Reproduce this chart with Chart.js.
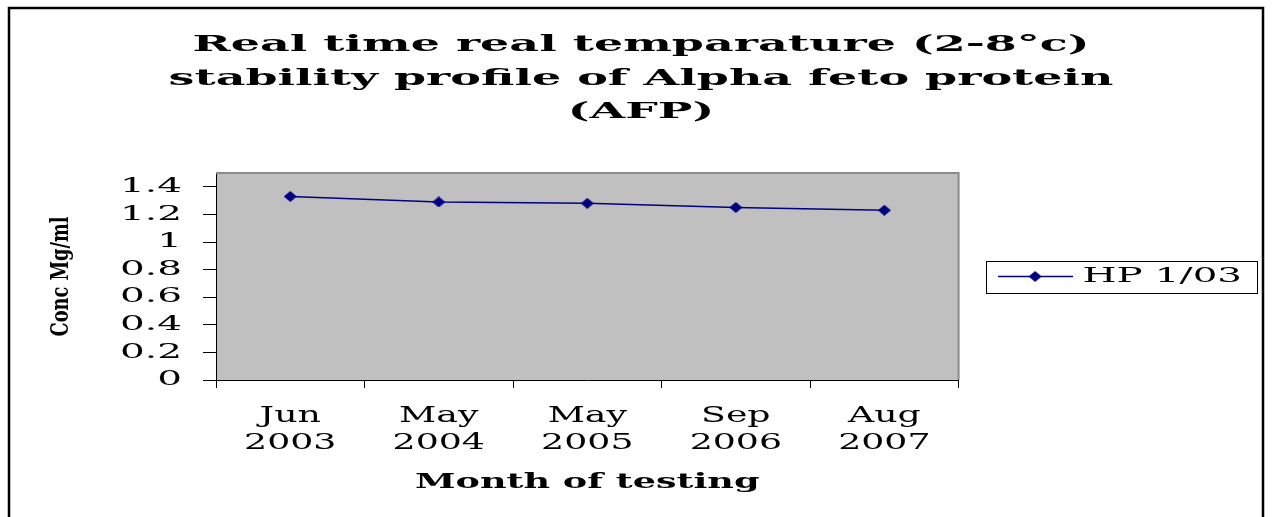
<!DOCTYPE html>
<html><head><meta charset="utf-8">
<script src="https://cdn.jsdelivr.net/npm/chart.js@4/dist/chart.umd.min.js"></script>
<style>html,body{margin:0;padding:0;background:#fff;}#wrap{width:1274px;height:517px;}</style>
</head><body><div id="wrap"><canvas id="c" width="1274" height="517"></canvas></div>
<script>
// ---- data ----
const months = ['Jun', 'May', 'May', 'Sep', 'Aug'];
const years = ['2003', '2004', '2005', '2006', '2007'];
const concValues = [1.33, 1.29, 1.28, 1.25, 1.23];
const seriesName = 'HP 1/03';
const yTickValues = [0, 0.2, 0.4, 0.6, 0.8, 1, 1.2, 1.4];
const titleLines = ['Real time real temparature (2-8°c)', 'stability profile of Alpha feto protein', '(AFP)'];
const yTitle = 'Conc Mg/ml';
const xTitle = 'Month of testing';

// ---- horizontal text stretch per font tag ----
const SX = {tgTitle: 2.09, tgAx: 1.83, tgXT: 1.65, tgYT: 1.95, tgLeg: 1.94, tgY: 0.74};
function sxFor(f) { for (const k in SX) if (f.indexOf(k) >= 0) return SX[k]; return 1; }
const canvas = document.getElementById('c');
const ctx = canvas.getContext('2d');
const oFill = ctx.fillText.bind(ctx), oMeas = ctx.measureText.bind(ctx);
ctx.fillText = function (t, x, y, mw) {
  const s = sxFor(ctx.font);
  if (s === 1) return mw === undefined ? oFill(t, x, y) : oFill(t, x, y, mw);
  ctx.save(); ctx.translate(x, y); ctx.scale(s, 1);
  if (mw === undefined) oFill(t, 0, 0); else oFill(t, 0, 0, mw / s);
  ctx.restore();
};
ctx.measureText = function (t) {
  const m = oMeas(t); const s = sxFor(ctx.font);
  if (s === 1) return m;
  return {width: m.width * s, actualBoundingBoxAscent: m.actualBoundingBoxAscent,
    actualBoundingBoxDescent: m.actualBoundingBoxDescent,
    actualBoundingBoxLeft: m.actualBoundingBoxLeft * s, actualBoundingBoxRight: m.actualBoundingBoxRight * s};
};

// ---- marker images ----
const NAVY = '#000080';
function diamond(c, cx, cy, w, h) {
  c.beginPath(); c.moveTo(cx, cy - h / 2); c.lineTo(cx + w / 2, cy); c.lineTo(cx, cy + h / 2); c.lineTo(cx - w / 2, cy); c.closePath();
  c.fillStyle = NAVY; c.fill();
}
const dImg = document.createElement('canvas'); dImg.width = 13; dImg.height = 11;
diamond(dImg.getContext('2d'), 6.5, 5.5, 13, 11);
const lImg = document.createElement('canvas'); lImg.width = 75; lImg.height = 11;
(function () { const c = lImg.getContext('2d'); c.strokeStyle = NAVY; c.lineWidth = 1.5; c.beginPath(); c.moveTo(0, 5.5); c.lineTo(75, 5.5); c.stroke(); diamond(c, 37.5, 5.5, 13, 11); })();

const deco = {
  id: 'deco',
  afterLayout(chart) {
    chart.titleBlock.left += 10; chart.titleBlock.right += 10;
  },
  beforeDraw(chart) {
    const c = chart.ctx, a = chart.chartArea;
    c.save();
    c.fillStyle = '#C0C0C0'; c.fillRect(a.left, a.top, a.right - a.left, a.bottom - a.top);
    c.strokeStyle = '#000'; c.lineWidth = 2.5;
    c.beginPath(); c.moveTo(9, 520); c.lineTo(9, 8); c.lineTo(1263, 8); c.lineTo(1263, 520); c.stroke();
    c.restore();
  },
  beforeDatasetsDraw(chart) {
    const c = chart.ctx, a = chart.chartArea;
    c.save(); c.strokeStyle = '#8c8c8c'; c.lineWidth = 2;
    c.beginPath(); c.moveTo(a.left, a.top); c.lineTo(a.right, a.top); c.lineTo(a.right, a.bottom); c.stroke();
    c.restore();
  },
  afterDraw(chart) {
    const hb = chart.legend.legendHitBoxes[0]; if (!hb) return;
    const c = chart.ctx; c.save(); c.strokeStyle = '#000'; c.lineWidth = 1;
    const cy = hb.top + hb.height / 2;
    c.strokeRect(Math.round(hb.left - 12) + 0.5, Math.round(cy - 16) + 0.5, Math.round(hb.width + 27), 32);
    c.restore();
  }
};

new Chart(ctx, {
  type: 'line',
  data: {
    labels: months.map((m, i) => [m, years[i]]),
    datasets: [{label: seriesName, data: concValues, borderColor: NAVY, backgroundColor: NAVY, borderWidth: 1.5,
      pointStyle: dImg, pointRadius: 6, tension: 0, fill: false}]
  },
  options: {
    responsive: false, animation: false, devicePixelRatio: 1,
    layout: {padding: {left: 10, right: 22, top: 0, bottom: 0}},
    plugins: {
      title: {display: true, text: titleLines, color: '#000',
        font: {family: "'DejaVu Serif', tgTitle", size: 22, weight: 'bold', lineHeight: 33.5 / 22},
        padding: {top: 29, bottom: 43.5}},
      legend: {position: 'right', fullSize: false,
        labels: {usePointStyle: true, pointStyle: lImg, pointStyleWidth: 75, padding: 39, color: '#000',
          font: {family: "'DejaVu Serif', tgLeg", size: 20}}},
      tooltip: {enabled: false}
    },
    scales: {
      x: {offset: true,
        grid: {display: true, offset: true, drawOnChartArea: false, drawTicks: true, tickLength: 8, color: '#000'},
        border: {display: true, color: '#000', width: 1},
        ticks: {color: '#000', padding: 15, maxRotation: 0, autoSkip: false,
          font: {family: "'DejaVu Serif', tgXT", size: 22, lineHeight: 27 / 22}},
        title: {display: true, text: xTitle, color: '#000',
          font: {family: "'DejaVu Serif', tgAx", size: 20, weight: 'bold'}, padding: {top: 0, bottom: 22}},
        afterFit(s) { s.height = 137; }
      },
      y: {min: 0, max: 1.5,
        afterBuildTicks(s) { s.ticks = yTickValues.map(v => ({value: v})); },
        grid: {drawOnChartArea: false, tickLength: 13, color: '#000'},
        border: {display: true, color: '#000', width: 1},
        ticks: {color: '#000', padding: 21, font: {family: "'DejaVu Serif', tgYT", size: 20}, callback: v => String(v)},
        title: {display: true, text: yTitle, color: '#000',
          font: {family: "'DejaVu Serif', tgY", size: 24, weight: 'bold', lineHeight: 1.1}, padding: {top: 39, bottom: 0}},
        afterFit(s) { s.width = 206; }
      }
    }
  },
  plugins: [deco]
});
</script></body></html>
